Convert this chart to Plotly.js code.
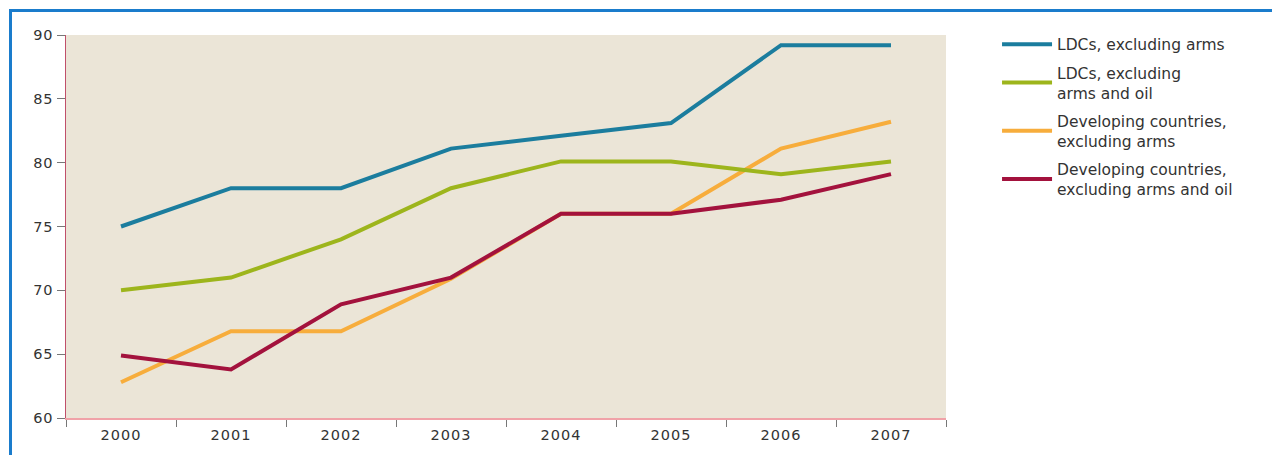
<!DOCTYPE html>
<html><head><meta charset="utf-8">
<script src="https://cdn.plot.ly/plotly-3.0.1.min.js"></script>
<style>
html,body{margin:0;padding:0;background:#fff;overflow:hidden}
#frame{position:absolute;left:9px;top:9px;width:1300px;height:460px;border-top:3px solid #1a7ccc;border-left:3px solid #1a7ccc;pointer-events:none;z-index:5}
#chart{position:absolute;left:0;top:0;width:1272px;height:455px}
#chart .xtick text, #chart .ytick text{letter-spacing:1px}
</style></head>
<body>
<div id="frame"></div>
<div id="chart"></div>
<script>
const years = ["2000","2001","2002","2003","2004","2005","2006","2007"];
const ldcExArms = [75, 78, 78, 81.1, 82.1, 83.1, 89.2, 89.2];
const ldcExArmsOil = [70, 71, 74, 78, 80.1, 80.1, 79.1, 80.1];
const devExArms = [62.8, 66.8, 66.8, 70.9, 76, 76, 81.1, 83.2];
const devExArmsOil = [64.9, 63.8, 68.9, 71, 76, 76, 77.1, 79.1];
const seriesNames = ["LDCs, excluding arms", "LDCs, excluding<br>arms and oil", "Developing countries,<br>excluding arms", "Developing countries,<br>excluding arms and oil"];
const colors = ["#1b7d9e", "#9db51c", "#f7ad3c", "#a3123d"];
const vals = [ldcExArms, ldcExArmsOil, devExArms, devExArmsOil];
const order = [2, 1, 3, 0];
const traces = vals.map((v, i) => ({
  x: years, y: v, type: "scatter", mode: "lines", name: seriesNames[i],
  line: {color: colors[i], width: 4}, legendgroup: "g" + i, legendrank: i
}));
const drawn = order.map(i => traces[i]);
const layout = {
  width: 1272, height: 455,
  margin: {l: 66, r: 326, t: 35, b: 37},
  paper_bgcolor: "#ffffff",
  plot_bgcolor: "#ebe5d7",
  font: {family: "DejaVu Sans, sans-serif", size: 14, color: "#333"},
  showlegend: true,
  legend: {x: 1.058, y: 1.019, xanchor: "left", yanchor: "top", font: {family: "DejaVu Sans, sans-serif", size: 15.5, color: "#333"},
    traceorder: "grouped", itemwidth: 50, tracegroupgap: 5, bgcolor: "rgba(0,0,0,0)"},
  xaxis: {type: "category", range: [-0.5, 7.5], tickson: "boundaries", ticks: "outside", ticklen: 7,
    tickcolor: "#777", showline: true, linecolor: "#f0a2a8", linewidth: 2, showgrid: false, zeroline: false,
    tickfont: {size: 14.5, color: "#333"}, ticklabelstandoff: 3, fixedrange: true},
  yaxis: {range: [60, 90], dtick: 5, ticks: "outside", ticklen: 8, tickcolor: "#777", showline: true,
    linecolor: "#c0506a", linewidth: 1.5, showgrid: false, zeroline: false,
    tickfont: {size: 14.5, color: "#333"}, fixedrange: true}
};
Plotly.newPlot("chart", drawn, layout, {displayModeBar: false, staticPlot: true});
</script>
</body></html>
